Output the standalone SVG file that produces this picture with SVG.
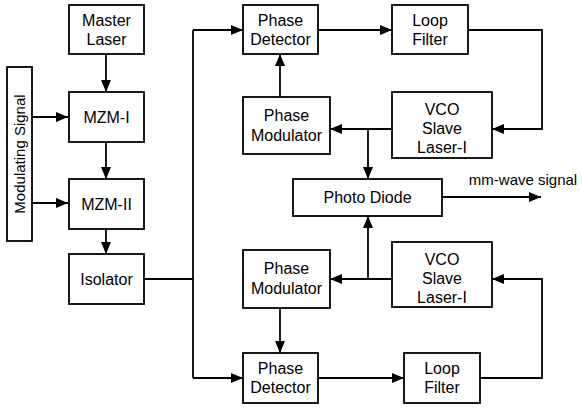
<svg xmlns="http://www.w3.org/2000/svg" width="582" height="412" viewBox="0 0 582 412">
<defs>
<marker id="ah" viewBox="0 0 12 10" refX="12" refY="5" markerWidth="12" markerHeight="10" markerUnits="userSpaceOnUse" orient="auto">
<path d="M0,0 L12,5 L0,10 Z" fill="#000"/>
</marker>
</defs>
<style>
rect{fill:#fff;stroke:#000;stroke-width:1.8}
text{font-family:"Liberation Sans",Arial,sans-serif;font-size:16px;fill:#000;text-anchor:middle}
.c{fill:none;stroke:#000;stroke-width:1.8}
.a{marker-end:url(#ah)}
</style>
<rect x="0" y="0" width="582" height="412" style="fill:#fff;stroke:none"/>
<g id="connectors">
<path class="c a" d="M106,54 V92"/>
<path class="c a" d="M106,142 V179"/>
<path class="c a" d="M106,229 V254"/>
<path class="c a" d="M32,117 H68"/>
<path class="c a" d="M32,203 H68"/>
<path class="c" d="M144,279 H193 M193,30 V378"/>
<path class="c a" d="M193,30 H243"/>
<path class="c a" d="M193,378 H243"/>
<path class="c a" d="M318,30 H392"/>
<path class="c a" d="M468,30 H542 V129 H492"/>
<path class="c a" d="M392,129 H330"/>
<path class="c a" d="M368,129 V179"/>
<path class="c a" d="M280,97 V54"/>
<path class="c a" d="M442,197 H541"/>
<path class="c a" d="M392,279 H330"/>
<path class="c a" d="M368,279 V216"/>
<path class="c a" d="M280,308 V353"/>
<path class="c a" d="M318,378 H404"/>
<path class="c a" d="M480,378 H542 V279 H492"/>
</g>
<g id="modulating-signal">
<rect x="7" y="67" width="25" height="174"/>
<text transform="translate(25,154) rotate(-90)" style="font-size:15px">Modulating Signal</text>
</g>
<g id="master-laser">
<rect x="69" y="5" width="75" height="49"/>
<text x="106.5" y="26">Master</text>
<text x="106.5" y="45">Laser</text>
</g>
<g id="mzm-1">
<rect x="69" y="92" width="75" height="50"/>
<text x="106.5" y="123">MZM-I</text>
</g>
<g id="mzm-2">
<rect x="69" y="179" width="75" height="50"/>
<text x="106.5" y="210">MZM-II</text>
</g>
<g id="isolator">
<rect x="69" y="254" width="75" height="50"/>
<text x="106.5" y="285">Isolator</text>
</g>
<g id="phase-detector-1">
<rect x="243" y="5" width="75" height="49"/>
<text x="280.5" y="26">Phase</text>
<text x="280.5" y="45">Detector</text>
</g>
<g id="loop-filter-1">
<rect x="392" y="5" width="76" height="49"/>
<text x="430" y="26">Loop</text>
<text x="430" y="45">Filter</text>
</g>
<g id="phase-modulator-1">
<rect x="243" y="97" width="87" height="57"/>
<text x="286.5" y="121">Phase</text>
<text x="286.5" y="141">Modulator</text>
</g>
<g id="vco-1">
<rect x="392" y="92" width="100" height="66"/>
<text x="442" y="115">VCO</text>
<text x="442" y="134">Slave</text>
<text x="442" y="153">Laser-I</text>
</g>
<g id="photo-diode">
<rect x="293" y="179" width="149" height="37"/>
<text x="367.5" y="203">Photo Diode</text>
</g>
<text x="523" y="185" style="font-size:15px">mm-wave signal</text>
<g id="phase-modulator-2">
<rect x="243" y="250" width="87" height="58"/>
<text x="286.5" y="274">Phase</text>
<text x="286.5" y="294">Modulator</text>
</g>
<g id="vco-2">
<rect x="392" y="242" width="100" height="65"/>
<text x="442" y="265">VCO</text>
<text x="442" y="284">Slave</text>
<text x="442" y="303">Laser-I</text>
</g>
<g id="phase-detector-2">
<rect x="243" y="353" width="75" height="50"/>
<text x="280.5" y="374">Phase</text>
<text x="280.5" y="393">Detector</text>
</g>
<g id="loop-filter-2">
<rect x="404" y="353" width="76" height="50"/>
<text x="442" y="374">Loop</text>
<text x="442" y="393">Filter</text>
</g>
</svg>
